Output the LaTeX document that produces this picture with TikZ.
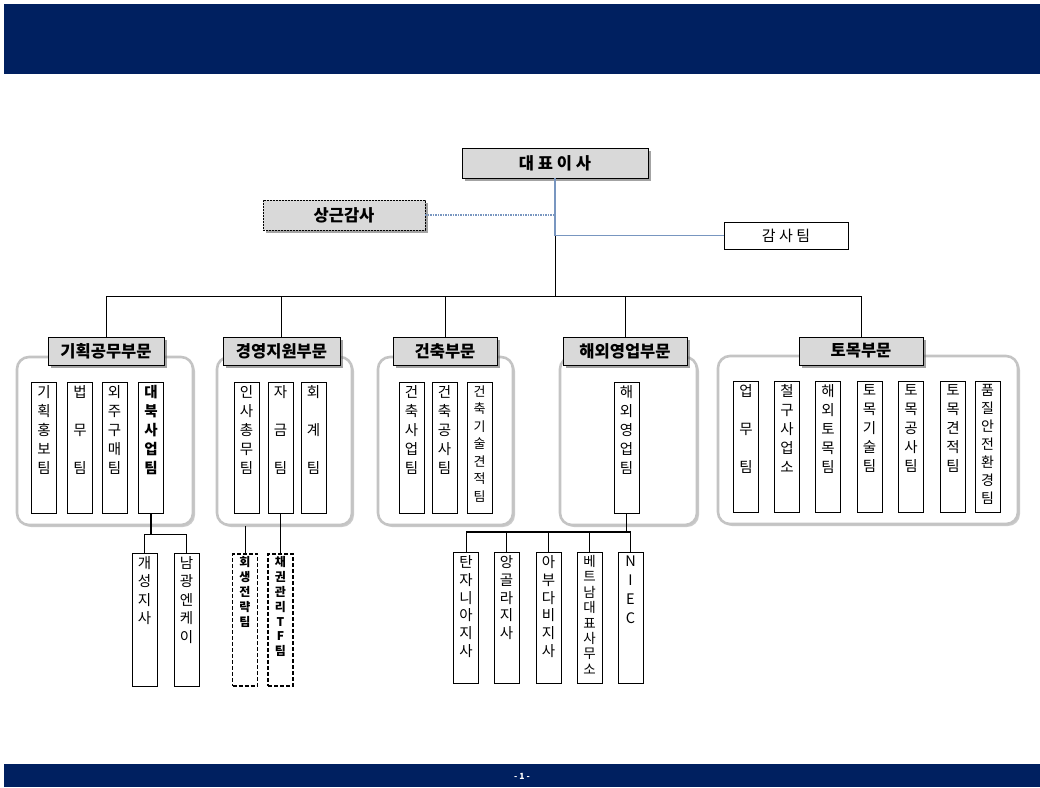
\documentclass[tikz,border=0pt]{standalone}
\usepackage{fontspec}
\setmainfont{Noto Sans CJK KR}
\usetikzlibrary{shadows}
\definecolor{navy}{RGB}{0,32,96}
\definecolor{hdrgray}{RGB}{217,217,217}
\definecolor{linkblue}{RGB}{120,150,192}
\definecolor{panelgray}{RGB}{196,196,196}
\newcommand{\colt}[3]{\parbox[c][#1][t]{#2}{\centering\vspace*{3pt}#3}}
\begin{document}
\begin{tikzpicture}[x=1pt,y=-1pt,
  hdr/.style={draw=black, line width=0.8pt, fill=hdrgray, inner sep=0pt,
    font=\fontsize{16.5}{16.5}\selectfont\bfseries,
    drop shadow={shadow xshift=2.5pt, shadow yshift=-2.5pt, fill=black!60, opacity=0.6}},
  panel/.style={draw=panelgray, line width=2.6pt, rounded corners=12pt, fill=white, inner sep=0pt,
    drop shadow={shadow xshift=2pt, shadow yshift=-2pt, fill=black!40, opacity=0.5}},
  sub/.style={draw=black, line width=0.8pt, fill=white, inner sep=0pt, anchor=north,
    font=\fontsize{14.5}{19}\selectfont},
  dsub/.style={draw=black, line width=1.6pt, dash pattern=on 4pt off 2pt, fill=white, inner sep=0pt, anchor=north,
    font=\fontsize{12}{14.8}\selectfont\bfseries},
  conn/.style={draw=black, line width=0.8pt},
  bconn/.style={draw=linkblue, line width=1.4pt}
]
\fill[white] (0,0) rectangle (1040,787);
\useasboundingbox (0,0) rectangle (1040,787);
% bands
\fill[navy] (4,4) rectangle (1040,74);
\fill[navy] (4,764) rectangle (1040,787);
\node[text=white, font=\fontsize{8.5}{8.5}\selectfont\bfseries] (pg) at (522,776) {- 1 -};

% top
\node[hdr, minimum width=186pt, minimum height=30pt] (ceo) at (555,163) {대 표 이 사};
\node[hdr, dash pattern=on 2pt off 1pt, minimum width=162pt, minimum height=30pt] (sg) at (344,215) {상근감사};
\node[draw=black, line width=0.8pt, fill=white, inner sep=0pt, minimum width=124pt, minimum height=27pt,
  font=\fontsize{15}{15}\selectfont] (gs) at (786,235.5) {감 사 팀};

\coordinate (tr) at (555,235.5);
\coordinate (busmid) at (555,296);

% panels
\node[panel, minimum width=176pt, minimum height=168pt] (p1) at (105,441) {};
\node[panel, minimum width=135pt, minimum height=168pt] (p2) at (284.5,441) {};
\node[panel, minimum width=135pt, minimum height=168pt] (p3) at (445.5,441) {};
\node[panel, minimum width=137pt, minimum height=168pt] (p4) at (628.5,441) {};
\node[panel, minimum width=300pt, minimum height=168pt] (p5) at (868,440) {};

% headers
\node[hdr, minimum width=116pt, minimum height=28pt] (h1) at (106,351) {기획공무부문};
\node[hdr, minimum width=117pt, minimum height=28pt] (h2) at (281.5,351) {경영지원부문};
\node[hdr, minimum width=104pt, minimum height=28pt] (h3) at (445,351) {건축부문};
\node[hdr, minimum width=124pt, minimum height=28pt] (h4) at (625,351) {해외영업부문};
\node[hdr, minimum width=124pt, minimum height=28pt] (h5) at (861,351) {토목부문};

% sub boxes
\node[sub] (a1) at (44,382) {\colt{131pt}{25pt}{기\\획\\홍\\보\\팀}};
\node[sub] (a2) at (80,382) {\colt{131pt}{25pt}{법\\[19pt]무\\[19pt]팀}};
\node[sub] (a3) at (114.5,382) {\colt{131pt}{25pt}{외\\주\\구\\매\\팀}};
\node[sub] (a4) at (151,382) {\colt{131pt}{25pt}{\bfseries 대\\북\\사\\업\\팀}};

\node[sub] (b1) at (246.5,382) {\colt{131pt}{25pt}{인\\사\\총\\무\\팀}};
\node[sub] (b2) at (280.5,382) {\colt{131pt}{25pt}{자\\[19pt]금\\[19pt]팀}};
\node[sub] (b3) at (313.5,382) {\colt{131pt}{25pt}{회\\[19pt]계\\[19pt]팀}};

\node[sub] (c1) at (411.5,382) {\colt{131pt}{25pt}{건\\축\\사\\업\\팀}};
\node[sub] (c2) at (444.5,382) {\colt{131pt}{25pt}{건\\축\\공\\사\\팀}};
\node[sub] (c3) at (479.5,382) {\colt{131pt}{25pt}{\fontsize{13}{17.5}\selectfont 건\\축\\기\\술\\견\\적\\팀}};

\node[sub] (d1) at (626.5,382) {\colt{131pt}{25pt}{해\\외\\영\\업\\팀}};

\node[sub] (e1) at (746,381) {\colt{131pt}{25pt}{업\\[19pt]무\\[19pt]팀}};
\node[sub] (e2) at (787,381) {\colt{131pt}{25pt}{철\\구\\사\\업\\소}};
\node[sub] (e3) at (828,381) {\colt{131pt}{25pt}{해\\외\\토\\목\\팀}};
\node[sub] (e4) at (869.5,381) {\colt{131pt}{25pt}{토\\목\\기\\술\\팀}};
\node[sub] (e5) at (911,381) {\colt{131pt}{25pt}{토\\목\\공\\사\\팀}};
\node[sub] (e6) at (953,381) {\colt{131pt}{25pt}{토\\목\\견\\적\\팀}};
\node[sub] (e7) at (987.5,381) {\colt{131pt}{25pt}{\fontsize{14}{18}\selectfont 품\\질\\안\\전\\환\\경\\팀}};

% lower boxes
\node[sub] (g1) at (144.5,553) {\colt{133pt}{25pt}{\fontsize{14.5}{18.5}\selectfont 개\\성\\지\\사}};
\node[sub] (g2) at (186.5,553) {\colt{133pt}{25pt}{\fontsize{14.5}{18.5}\selectfont 남\\광\\엔\\케\\이}};

\node[dsub] (k1) at (245,553) {\colt{132pt}{25pt}{회\\생\\전\\략\\팀}};
\node[dsub] (k2) at (280.5,553) {\colt{132pt}{25pt}{채\\권\\관\\리\\T\\F\\팀}};

\node[sub] (o1) at (466,552) {\colt{131pt}{25pt}{\fontsize{14.5}{17.8}\selectfont 탄\\자\\니\\아\\지\\사}};
\node[sub] (o2) at (506.5,552) {\colt{131pt}{25pt}{\fontsize{14.5}{17.8}\selectfont 앙\\골\\라\\지\\사}};
\node[sub] (o3) at (548.5,552) {\colt{131pt}{25pt}{\fontsize{14.5}{17.8}\selectfont 아\\부\\다\\비\\지\\사}};
\node[sub] (o4) at (589.5,552) {\colt{131pt}{25pt}{\fontsize{13.5}{15.4}\selectfont 베\\트\\남\\대\\표\\사\\무\\소}};
\node[sub] (o5) at (630.5,552) {\colt{131pt}{25pt}{N\\I\\E\\C}};

% connectors top
\draw[bconn] (ceo.south -| tr) -- (tr) -- (gs.west);
\draw[draw=linkblue, line width=1.2pt, dash pattern=on 1.5pt off 1pt] (sg.east) -- (sg.east -| tr);
\draw[conn] (tr) -- (busmid);
\draw[conn] (h1.north) -- (h1.north |- busmid) -- (h5.north |- busmid) -- (h5.north);
\draw[conn] (h2.north) -- (h2.north |- busmid);
\draw[conn] (h3.north) -- (h3.north |- busmid);
\draw[conn] (h4.north) -- (h4.north |- busmid);

% lower connectors
\coordinate (jb) at (151,534);
\draw[conn, line width=1.2pt] (a4.south) -- (a4.south |- jb);
\draw[conn] (g1.north) -- (g1.north |- jb) -- (g2.north |- jb) -- (g2.north);
\draw[conn] (k1.north) -- (k1.north |- p2.south);
\draw[conn] (b2.south) -- (k2.north);
\coordinate (jo) at (626.5,532);
\draw[conn, line width=1.2pt] (d1.south) -- (d1.south |- jo);
\draw[conn, line width=1.2pt] (o1.north |- jo) -- (o5.north |- jo);
\draw[conn] (o1.north) -- (o1.north |- jo);
\draw[conn] (o2.north) -- (o2.north |- jo);
\draw[conn] (o3.north) -- (o3.north |- jo);
\draw[conn] (o4.north) -- (o4.north |- jo);
\draw[conn] (o5.north) -- (o5.north |- jo);
\end{tikzpicture}
\end{document}
